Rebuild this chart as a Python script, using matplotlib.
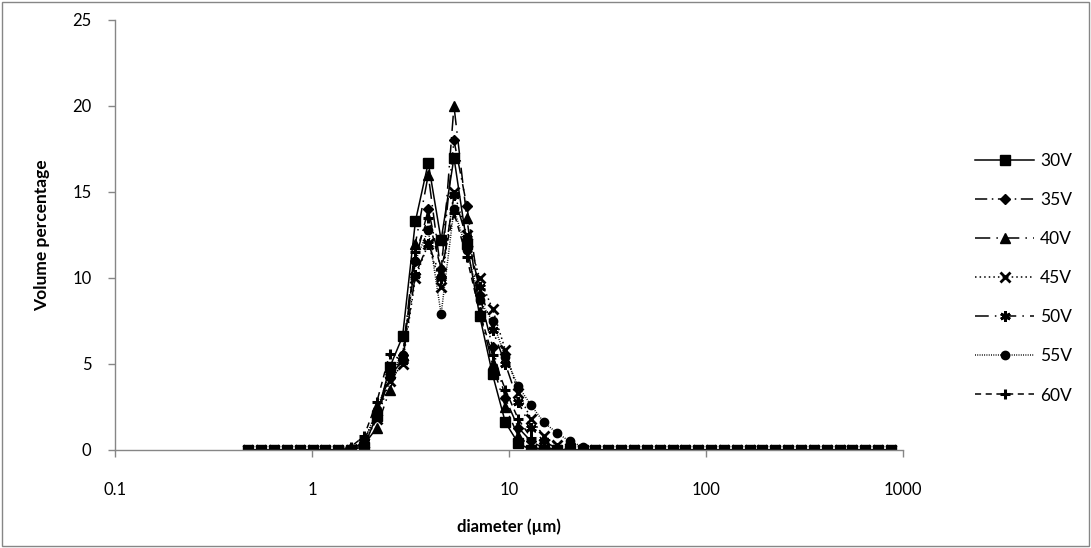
import matplotlib
matplotlib.use("Agg")
import matplotlib.pyplot as plt
from matplotlib.patches import Rectangle

plt.rcParams['font.family'] = ['Lato', 'DejaVu Sans']

# particle diameter bins (um)
diameter_um = [0.475, 0.552, 0.642, 0.746, 0.867, 1.007, 1.17, 1.36, 1.58, 1.836,
               2.134, 2.48, 2.882, 3.349, 3.892, 4.523, 5.256, 6.108, 7.098, 8.249,
               9.587, 11.14, 12.95, 15.05, 17.49, 20.32, 23.62, 27.45, 31.9, 37.07,
               43.08, 50.06, 58.18, 67.61, 78.57, 91.31, 106.1, 123.3, 143.3, 166.5,
               193.5, 224.9, 261.4, 303.7, 353.0, 410.2, 476.7, 554.0, 643.8, 748.1,
               869.4]

v30 = [0, 0, 0, 0, 0, 0, 0, 0, 0, 0.2, 2.0, 4.8, 6.6, 13.3, 16.7, 12.2, 17.0, 12.0, 7.8, 4.4,
       1.6, 0.4, 0, 0, 0, 0, 0, 0, 0, 0, 0, 0, 0, 0, 0, 0, 0, 0, 0, 0,
       0, 0, 0, 0, 0, 0, 0, 0, 0, 0, 0]
v35 = [0, 0, 0, 0, 0, 0, 0, 0, 0.1, 0.6, 2.0, 4.2, 5.5, 11.0, 14.0, 10.5, 18.0, 14.2, 9.0, 6.0,
       3.0, 1.3, 0.5, 0.1, 0, 0, 0, 0, 0, 0, 0, 0, 0, 0, 0, 0, 0, 0, 0, 0,
       0, 0, 0, 0, 0, 0, 0, 0, 0, 0, 0]
v40 = [0, 0, 0, 0, 0, 0, 0, 0, 0, 0.3, 1.3, 3.5, 5.5, 12.0, 16.0, 10.3, 20.0, 13.5, 8.0, 5.0,
       2.5, 0.8, 0.2, 0, 0, 0, 0, 0, 0, 0, 0, 0, 0, 0, 0, 0, 0, 0, 0, 0,
       0, 0, 0, 0, 0, 0, 0, 0, 0, 0, 0]
v45 = [0, 0, 0, 0, 0, 0, 0, 0, 0, 0.4, 1.8, 4.0, 5.0, 10.0, 12.0, 9.5, 15.0, 12.5, 10.0, 8.2,
       5.8, 3.3, 1.8, 0.8, 0.3, 0.1, 0, 0, 0, 0, 0, 0, 0, 0, 0, 0, 0, 0, 0, 0,
       0, 0, 0, 0, 0, 0, 0, 0, 0, 0, 0]
v50 = [0, 0, 0, 0, 0, 0, 0, 0, 0, 0.5, 2.2, 4.3, 5.2, 10.2, 12.0, 10.0, 14.8, 12.3, 9.5, 7.0,
       5.0, 2.8, 1.3, 0.5, 0.1, 0, 0, 0, 0, 0, 0, 0, 0, 0, 0, 0, 0, 0, 0, 0,
       0, 0, 0, 0, 0, 0, 0, 0, 0, 0, 0]
v55 = [0, 0, 0, 0, 0, 0, 0, 0, 0, 0.5, 2.3, 4.5, 5.5, 11.0, 12.8, 7.9, 14.0, 11.6, 8.7, 7.5,
       5.4, 3.7, 2.6, 1.6, 1.0, 0.5, 0.2, 0, 0, 0, 0, 0, 0, 0, 0, 0, 0, 0, 0, 0,
       0, 0, 0, 0, 0, 0, 0, 0, 0, 0, 0]
v60 = [0, 0, 0, 0, 0, 0, 0, 0, 0.2, 0.8, 2.8, 5.6, 5.2, 11.5, 13.5, 10.5, 13.8, 11.2, 8.0, 5.5,
       3.5, 1.8, 0.7, 0.2, 0, 0, 0, 0, 0, 0, 0, 0, 0, 0, 0, 0, 0, 0, 0, 0,
       0, 0, 0, 0, 0, 0, 0, 0, 0, 0, 0]

labels = ['30V', '35V', '40V', '45V', '50V', '55V', '60V']
series = [v30, v35, v40, v45, v50, v55, v60]
markers = ['s', 'D', '^', 'x', (6, 2, 0), 'o', '+']
styles = ['-', (0, (8, 3, 1, 3)), (0, (10, 4, 1, 4)), (0, (1, 2)), (0, (9, 4, 1, 4)),
          (0, (0.6, 0.9)), (0, (4, 3))]
msizes = [6.5, 5.0, 6.5, 6.5, 7.5, 6.0, 7.5]
medges = [1.0, 1.0, 1.0, 2.0, 2.0, 1.0, 2.2]

x_ticks = [0.1, 1, 10, 100, 1000]
x_ticklabels = ['0.1', '1', '10', '100', '1000']
y_ticks = [0, 5, 10, 15, 20, 25]

W, H = 1091, 548
fig = plt.figure(figsize=(W / 100, H / 100), dpi=100)
ax = fig.add_axes([115 / W, 1 - 450 / H, (903 - 115) / W, (450 - 20) / H])

for lab, vals, mk, ls, ms, mew in zip(labels, series, markers, styles, msizes, medges):
    ax.plot(diameter_um, vals, color='black', linestyle=ls, linewidth=1.1,
            marker=mk, markersize=ms, markeredgewidth=mew,
            markerfacecolor='black', markeredgecolor='black', label=lab)

ax.set_xscale('log')
ax.set_xlim(0.1, 1000)
ax.set_ylim(0, 25)
ax.set_xticks(x_ticks)
ax.set_xticklabels(x_ticklabels)
ax.xaxis.set_minor_locator(matplotlib.ticker.NullLocator())
ax.set_yticks(y_ticks)

for s in ['top', 'right']:
    ax.spines[s].set_visible(False)
for s in ['left', 'bottom']:
    ax.spines[s].set_color('#868686')
    ax.spines[s].set_linewidth(1.0)
ax.tick_params(axis='both', colors='#868686', length=5, width=1.0,
               labelcolor='black', labelsize=12, direction='out')
ax.tick_params(axis='x', pad=18)
ax.tick_params(axis='y', pad=12)

ax.set_xlabel('diameter (µm)', fontsize=12, fontweight='bold', labelpad=15)
ax.set_ylabel('Volume percentage', fontsize=12.5, fontweight='bold', labelpad=16)

leg = fig.legend(loc='upper left', bbox_to_anchor=(975 / W, 1 - 153 / H),
                 frameon=False, fontsize=12.5, handlelength=3.4,
                 handletextpad=0.35, labelspacing=1.33, borderpad=0,
                 borderaxespad=0)

fig.patches.append(Rectangle((0.002, 0.003), 0.996, 0.994, transform=fig.transFigure,
                             fill=False, edgecolor='#868686', linewidth=1.0))

fig.savefig('out.png', dpi=100)
